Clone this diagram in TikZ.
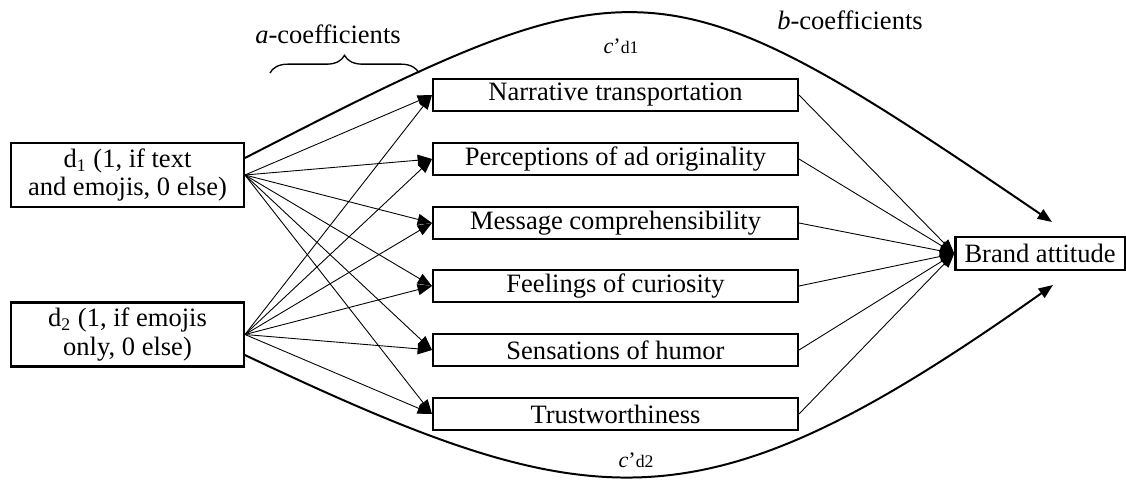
\documentclass[tikz,border=0pt]{standalone}
\usepackage{fontspec}
\setmainfont{Liberation Serif}
\usetikzlibrary{arrows.meta,decorations.pathreplacing}

\begin{document}
\begin{tikzpicture}[x=0.0159cm,y=-0.0159cm,
    font=\fontsize{12}{13}\selectfont,
    dbox/.style={draw=black,line width=1pt,minimum width=3.70cm,minimum height=1.02cm,inner sep=1pt,align=center},
    mbox/.style={draw=black,line width=1pt,minimum width=5.80cm,minimum height=0.51cm,inner sep=1pt},
    arr/.style={-{Triangle[length=6.5pt,width=5pt]},line width=0.4pt},
    direct/.style={-{Triangle[length=6.5pt,width=5pt]},line width=0.9pt},
    coef/.style={inner sep=1pt},
    cpath/.style={inner sep=1pt,font=\fontsize{10}{12}\selectfont},
    brc/.style={decorate,decoration={brace,amplitude=8pt},line width=0.6pt}]

      \useasboundingbox (0,0) rectangle (1126,479);

      \node[dbox] (d1) at (127.5,175) {d\textsubscript{1} (1, if text\\and emojis, 0 else)};
      \node[dbox] (d2) at (127.5,334.5) {d\textsubscript{2} (1, if emojis\\only, 0 else)};

      \node[mbox] (a) at (615.5,95) {Narrative transportation};
      \node[mbox] (b) at (615.5,159) {Perceptions of ad originality};
      \node[mbox] (c) at (615.5,223) {Message comprehensibility};
      \node[mbox] (d) at (615.5,286) {Feelings of curiosity};
      \node[mbox] (e) at (615.5,350) {Sensations of humor};
      \node[mbox] (f) at (615.5,414) {Trustworthiness};

      \node[draw=black,line width=1pt,minimum width=2.69cm,minimum height=0.525cm,inner sep=1pt] (y) at (1040,253.5) {Brand attitude};

      \node[coef] (ac) at (328,34) {\textit{a}-coefficients};
      \node[coef] (bc) at (850,20) {\textit{b}-coefficients};
      \node[cpath] (c1) at (621,46) {\textit{c}’{\fontsize{8}{9}\selectfont d1}};
      \node[cpath] (c2) at (636,460) {\textit{c}’{\fontsize{8}{9}\selectfont d2}};

      \coordinate (t1) at (1052,222);
      \coordinate (t2) at (1053,285);

      \draw[brc] (270,73) -- (419,73);

      \draw[arr] (d1.east) -- (a.west);
      \draw[arr] (d1.east) -- (b.west);
      \draw[arr] (d1.east) -- (c.west);
      \draw[arr] (d1.east) -- (d.west);
      \draw[arr] (d1.east) -- (e.west);
      \draw[arr] (d1.east) -- (f.west);
      \draw[arr] (d2.east) -- (a.west);
      \draw[arr] (d2.east) -- (b.west);
      \draw[arr] (d2.east) -- (c.west);
      \draw[arr] (d2.east) -- (d.west);
      \draw[arr] (d2.east) -- (e.west);
      \draw[arr] (d2.east) -- (f.west);
      \draw[arr] (a.east) -- (y.west);
      \draw[arr] (b.east) -- (y.west);
      \draw[arr] (c.east) -- (y.west);
      \draw[arr] (d.east) -- (y.west);
      \draw[arr] (e.east) -- (y.west);
      \draw[arr] (f.east) -- (y.west);

      \draw[direct] ([yshift=7.7pt]d1.east) .. controls (640,-45) and (660,-45) .. (t1);
      \draw[direct] ([yshift=-9.3pt]d2.east) .. controls (596,521) and (700,535) .. (t2);
    \end{tikzpicture}
\end{document}
